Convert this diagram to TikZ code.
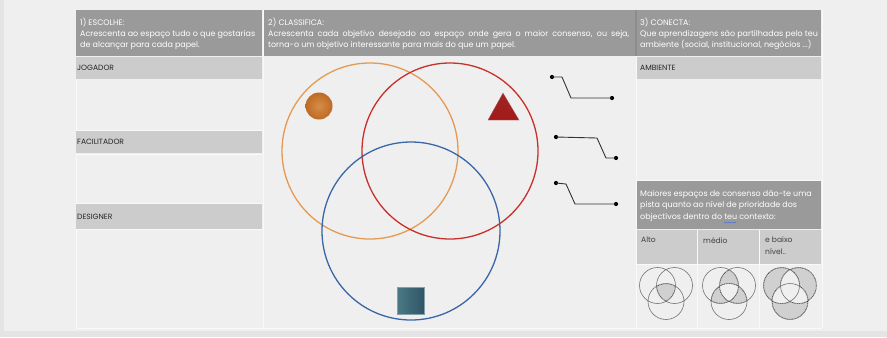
\documentclass[tikz,border=0pt]{standalone}
\usepackage{fontspec}
\usetikzlibrary{decorations.pathmorphing}
\setmainfont{Poppins}
\hyphenpenalty=10000
\definecolor{framebg}{HTML}{E4E4E4}
\definecolor{pagebg}{HTML}{EFEFEF}
\definecolor{headgray}{HTML}{9A9A9A}
\definecolor{bargray}{HTML}{CCCCCC}
\definecolor{gridline}{HTML}{F9F9F9}
\definecolor{orangeset}{HTML}{E49A52}
\definecolor{redset}{HTML}{C9302B}
\definecolor{blueset}{HTML}{3966A8}
\definecolor{shadegray}{HTML}{D0D0D0}
\definecolor{spellblue}{HTML}{4A6FE0}
\definecolor{balllight}{HTML}{D68D48}
\definecolor{balldark}{HTML}{BE6A24}
\definecolor{boxlight}{HTML}{4C7886}
\definecolor{boxdark}{HTML}{2F5666}

% small three-set diagram, circles relative to the scope origin
\def\vA{(-8.5,-5.5) circle (18bp)}
\def\vB{(8.5,-5.5) circle (18bp)}
\def\vC{(0,10.5) circle (18bp)}
\def\vOut{(-40,-40) rectangle (40,40)}

\begin{document}
\begin{tikzpicture}[x=1bp,y=-1bp,
  head/.style={fill=headgray,draw=none},
  bar/.style={fill=bargray,draw=none},
  headtext/.style={anchor=north west,inner sep=0pt,text=white,align=left,
    font=\fontsize{8}{11.2}\selectfont},
  bartext/.style={anchor=west,inner sep=0pt,text=black!85,
    font=\fontsize{7.6}{8}\selectfont},
  subtext/.style={anchor=north west,inner sep=0pt,text=black!75,align=left,
    font=\fontsize{7.6}{12}\selectfont},
  set/.style={line width=1.3bp},
  dot/.style={circle,fill=black,inner sep=0pt,minimum size=4.2bp},
  wire/.style={draw=black!80,line width=0.9bp},
  ring/.style={draw=black!55,line width=0.6bp},
  edge/.style={draw=black!75,line width=1bp,dash pattern=on 1bp off 0.7bp}]

  \useasboundingbox (0,0) rectangle (887,337);
  \fill[framebg] (0,0) rectangle (887,337);
  \fill[pagebg] (4,0) rectangle (887,331);

  % table grid
  \draw[gridline,line width=0.8bp] (76,10) -- (76,328) (263,10) -- (263,328)
    (636,10) -- (636,328) (822,10) -- (822,328)
    (76,328) -- (822,328);
  \draw[gridline,line width=0.8bp] (76,130) -- (262,130) (76,154) -- (262,154)
    (76,203) -- (262,203) (76,229.5) -- (262,229.5) (637,180) -- (821,180)
    (637,264.5) -- (821,264.5) (697.5,230) -- (697.5,328) (759.5,230) -- (759.5,328);

  % column heads
  \fill[head] (76,10) rectangle (262,56);
  \fill[head] (264,10) rectangle (635,56);
  \fill[head] (637,10) rectangle (821,56);
  \fill[black!45] (635,10) rectangle (636.5,56);

  \node[headtext] (escolhe) at (80,17.5)
    {1) ESCOLHE:\\Acrescenta ao espaço tudo o que gostarias\\de alcançar para cada papel.};
  \node[headtext,text width=361bp,align=justify] (classifica) at (268,17.5)
    {2) CLASSIFICA:\\Acrescenta cada objetivo desejado ao espaço onde gera o maior consenso, ou seja,\linebreak torna-o um objetivo interessante para mais do que um papel.};
  \node[headtext] (conecta) at (640,17.5)
    {3) CONECTA:\\Que aprendizagens são partilhadas pelo teu\\ambiente (social, institucional, negócios ...)};

  % roles
  \fill[bar] (76,57) rectangle (262,79);
  \fill[bar] (76,131) rectangle (262,153);
  \fill[bar] (76,204) rectangle (262,229);
  \fill[bar] (637,57) rectangle (821,79);
  \node[bartext] (jogador) at (77,68) {JOGADOR};
  \node[bartext] (facilitador) at (77,142) {FACILITADOR};
  \node[bartext] (designer) at (77,216.5) {DESIGNER};
  \node[bartext] (ambiente) at (640,68) {AMBIENTE};

  % consensus legend
  \fill[head] (637,181) rectangle (821,229);
  \node[headtext,font=\fontsize{8}{11.6}\selectfont] (consenso) at (640,190)
    {Maiores espaços de consenso dão-te uma\\pista quanto ao nível de prioridade dos\\objectivos dentro do teu contexto:};
  \draw[spellblue,line width=0.5bp,decorate,decoration={snake,amplitude=0.5bp,segment length=2bp}]
    (724,222.5) -- (736,222.5);
  \fill[bar] (637,230) rectangle (697,264);
  \fill[bar] (698,230) rectangle (759,264);
  \fill[bar] (760,230) rectangle (821,264);
  \node[subtext] (alto) at (641,237) {Alto};
  \node[subtext] (medio) at (703,237) {médio};
  \node[subtext] (baixo) at (765,237) {e baixo\\nível..};

  % the three sets
  \draw[set,orangeset] (370,151) circle (88bp);
  \draw[set,redset] (450,151) circle (88bp);
  \draw[set,blueset] (411,231) circle (89bp);

  \shade[inner color=balllight,outer color=balldark] (319,106) circle (13.5bp);
  \shade[top color=red!55!black!85,bottom color=red!60!black!90,draw=red!40!black!60,line width=0.3bp]
    (503,93) -- (519,120) -- (488,120) -- cycle;
  \shade[left color=boxlight,right color=boxdark,draw=boxlight!70!white,line width=0.5bp]
    (397,287) rectangle (424,314);

  % links to the surroundings
  \node[dot] (a1) at (552,77) {};
  \node[dot] (b1) at (612,98) {};
  \node[dot] (a2) at (556,137) {};
  \node[dot] (b2) at (616,158) {};
  \node[dot] (a3) at (556,183) {};
  \node[dot] (b3) at (616,204) {};
  \draw[wire] (a1.center) -- ++(10,0) -- ++(9,21) -- (b1.center);
  \draw[wire] (a2.center) -- ++(41,1) -- ++(9,20) -- (b2.center);
  \draw[wire] (a3.center) -- ++(10,1) -- ++(9,20) -- (b3.center);

  % high: all three overlap
  \begin{scope}[shift={(666,291)}]
    \draw[ring] \vA \vB \vC;
    \begin{scope}
      \clip \vA; \clip \vB; \clip \vC;
      \fill[shadegray] \vOut;
      \draw[edge] \vA \vB \vC;
    \end{scope}
  \end{scope}

  % medium: two overlap
  \begin{scope}[shift={(729,291)},even odd rule]
    \draw[ring] \vA \vB \vC;
    \begin{scope}
      \clip \vA; \clip \vB; \clip \vOut \vC;
      \fill[shadegray] \vOut;
      \draw[edge] \vA \vB \vC;
    \end{scope}
    \begin{scope}
      \clip \vA; \clip \vC; \clip \vOut \vB;
      \fill[shadegray] \vOut;
      \draw[edge] \vA \vB \vC;
    \end{scope}
    \begin{scope}
      \clip \vB; \clip \vC; \clip \vOut \vA;
      \fill[shadegray] \vOut;
      \draw[edge] \vA \vB \vC;
    \end{scope}
  \end{scope}

  % low: one set only
  \begin{scope}[shift={(790,291)},even odd rule]
    \draw[ring] \vA \vB \vC;
    \begin{scope}
      \clip \vA; \clip \vOut \vB; \clip \vOut \vC;
      \fill[shadegray] \vOut;
      \draw[edge] \vA \vB \vC;
    \end{scope}
    \begin{scope}
      \clip \vB; \clip \vOut \vA; \clip \vOut \vC;
      \fill[shadegray] \vOut;
      \draw[edge] \vA \vB \vC;
    \end{scope}
    \begin{scope}
      \clip \vC; \clip \vOut \vA; \clip \vOut \vB;
      \fill[shadegray] \vOut;
      \draw[edge] \vA \vB \vC;
    \end{scope}
  \end{scope}
\end{tikzpicture}
\end{document}
